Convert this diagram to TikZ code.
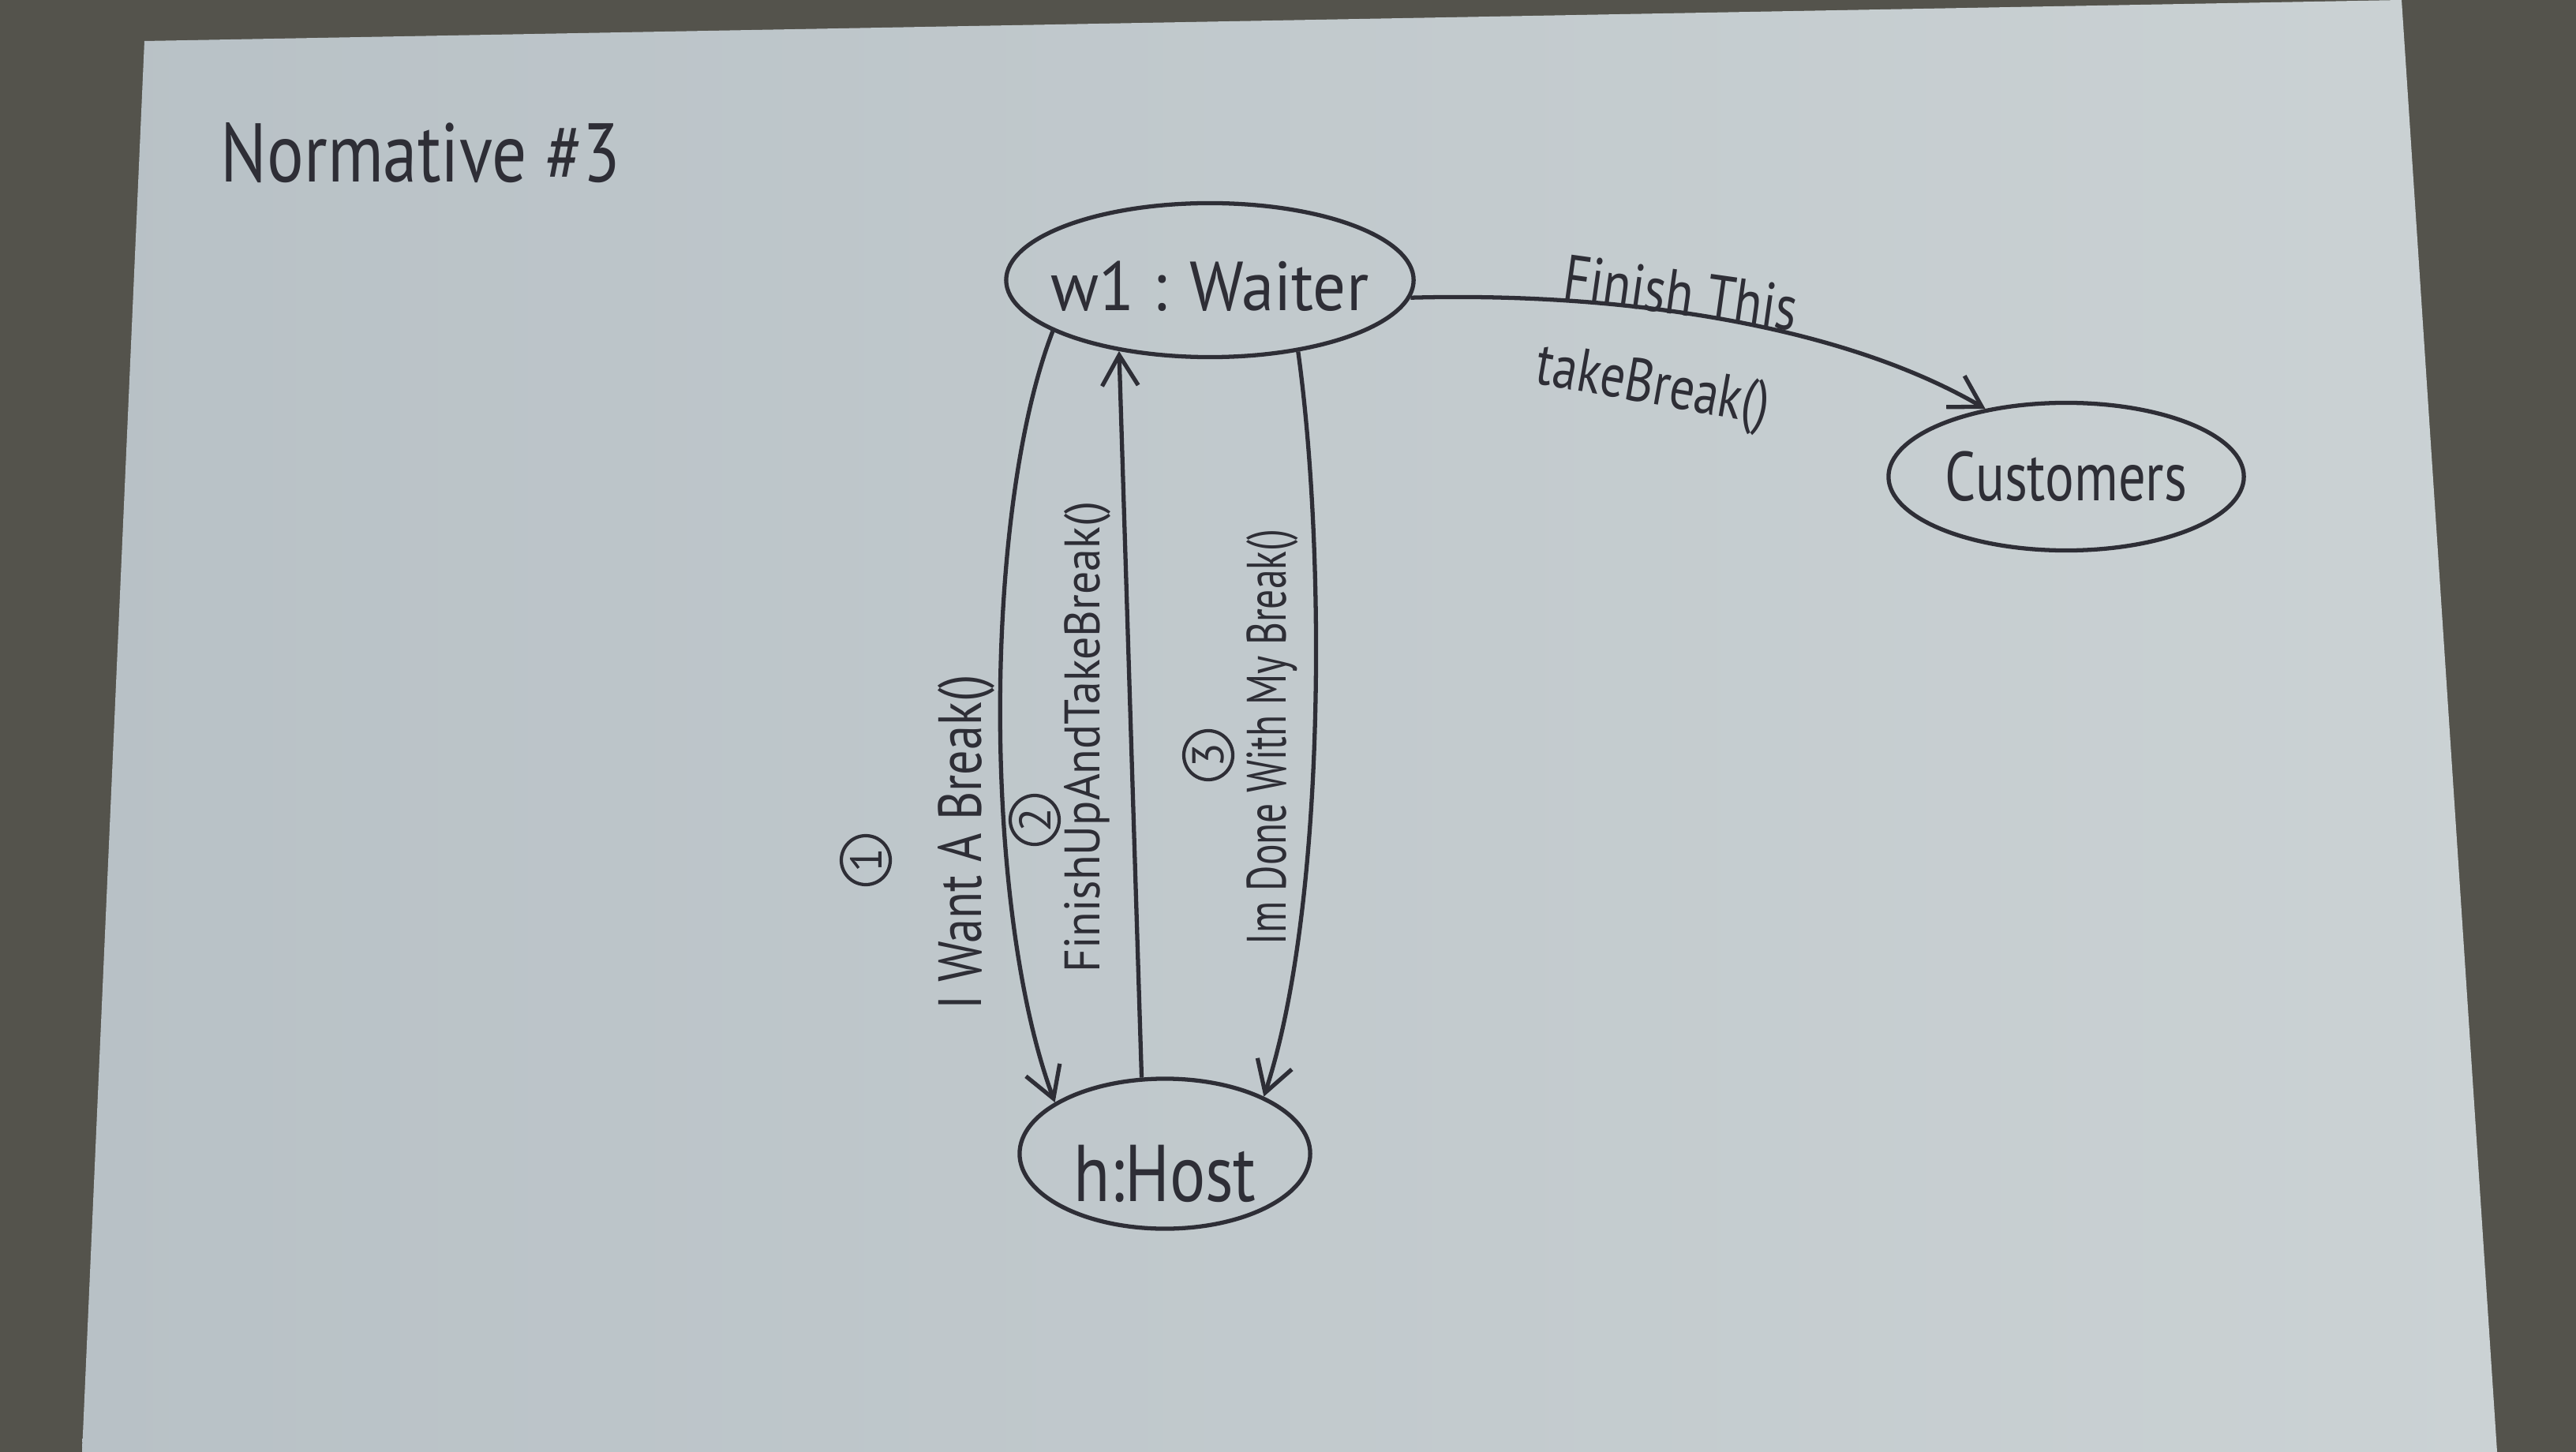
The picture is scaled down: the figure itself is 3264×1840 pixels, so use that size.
\documentclass[tikz,border=0pt]{standalone}
\usepackage{graphicx}
\usepackage{fontspec}
\newfontfamily\hand{PT Sans}
\usetikzlibrary{arrows.meta,shapes.geometric}
\definecolor{ink}{HTML}{2E2E36}
\definecolor{paperL}{HTML}{B8C1C6}
\definecolor{paperR}{HTML}{CBD2D4}
\definecolor{carpet}{HTML}{54534C}
\newcommand\fitw[3]{\resizebox{#1}{\height}{\fontsize{#2}{#2}\selectfont #3}}
\begin{document}
\begin{tikzpicture}[x=0.01cm,y=-0.01cm,
  obj/.style={ellipse,draw=ink,line width=1.5pt,inner sep=0pt,font=\hand,text=ink},
  objtext/.style={font=\hand,text=ink,inner sep=0pt},
  arr/.style={draw=ink,line width=1.5pt,-{Straight Barb[length=11pt,width=13pt,line width=1.5pt]}},
  lbl/.style={font=\hand,text=ink,inner sep=0pt},
  num/.style={circle,draw=ink,line width=1.2pt,inner sep=0pt,minimum size=0.62cm,font=\hand\fontsize{16}{16}\selectfont,text=ink,rotate=90}
]
\useasboundingbox (0,0) rectangle (3264,1840);
\fill[carpet] (0,0) rectangle (3264,1840);
\shade[left color=paperL,right color=paperR] (183,52) -- (3043,0) -- (3164,1840) -- (104,1840) -- cycle;

\node[lbl] (title) at (533,194) {\fitw{5.06cm}{30}{Normative \#3}};

\node[obj,minimum width=5.16cm,minimum height=1.95cm,
  label={[objtext,yshift=-0.08cm]center:\fitw{4.02cm}{25}{w1 : Waiter}}] (w) at (1533,355) {};
\node[obj,minimum width=3.68cm,minimum height=1.9cm,
  label={[objtext,yshift=-0.25cm]center:\fitw{2.31cm}{29}{h:Host}}] (h) at (1476,1462) {};
\node[obj,minimum width=4.5cm,minimum height=1.87cm,
  label={[objtext]center:\fitw{3.06cm}{25}{Customers}}] (c) at (2618,604) {};

\draw[arr] (w.198) .. controls (1245,650) and (1245,1150) .. (h.155);
\draw[arr] (h.107) -- (w.218);
\draw[arr] (w.321) .. controls (1680,700) and (1680,1150) .. (h.30);
\draw[arr] (w.-5) .. controls (2050,370) and (2330,410) .. (c.140);

\node[lbl,rotate=90] (l1) at (1224,1067) {\fitw{4.24cm}{22}{I Want A Break()}};
\node[num] (n1) at (1097,1090) {1};
\node[lbl,rotate=90] (l2) at (1378,934) {\fitw{5.97cm}{18}{FinishUpAndTakeBreak()}};
\node[num] (n2) at (1311,1039) {2};
\node[lbl,rotate=90] (l3) at (1612,934) {\fitw{5.26cm}{20}{Im Done With My Break()}};
\node[num] (n3) at (1531,957) {3};
\node[lbl,rotate=-8] (l4) at (2130,371) {\fitw{2.98cm}{23}{Finish This}};
\node[lbl,rotate=-10] (l5) at (2094,493) {\fitw{2.98cm}{22}{takeBreak()}};
\end{tikzpicture}
\end{document}
